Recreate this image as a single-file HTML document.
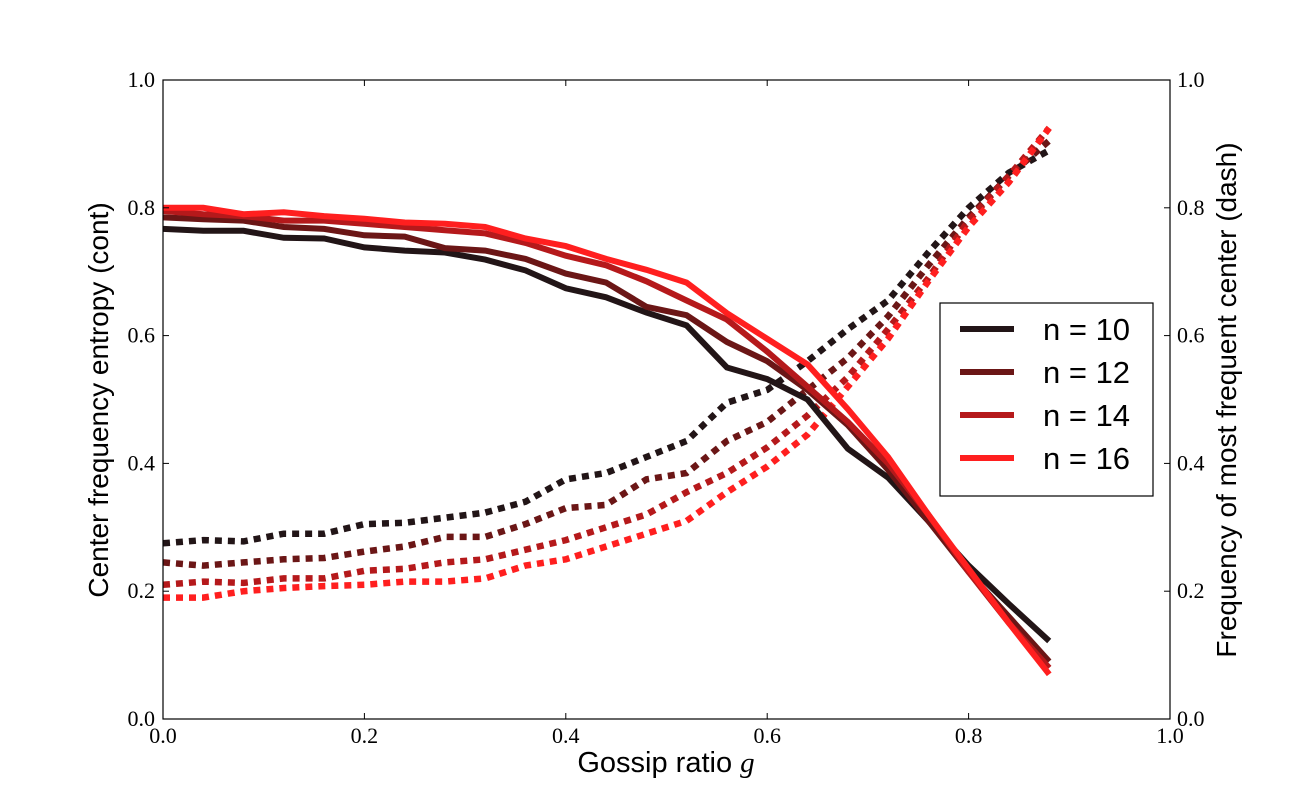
<!DOCTYPE html>
<html><head><meta charset="utf-8"><style>
body{margin:0;background:#fff}
svg text{font-family:"Liberation Sans",sans-serif}
.tk{font-family:"Liberation Serif",serif;font-size:22px;fill:#000}
</style></head><body>
<svg id="chart" width="1300" height="800" xmlns="http://www.w3.org/2000/svg">
<rect width="1300" height="800" fill="#fff"/>
<g id="marks"></g>
<rect x="163" y="80" width="1007" height="639" fill="none" stroke="#000" stroke-width="1.2"/>
<g id="ticks"></g>
<text x="666" y="772" text-anchor="middle" font-size="29">Gossip ratio <tspan font-family="Liberation Serif,serif" font-style="italic">g</tspan></text>
<text transform="translate(108,400) rotate(-90)" text-anchor="middle" font-size="28">Center frequency entropy (cont)</text>
<text transform="translate(1236,400) rotate(-90)" text-anchor="middle" font-size="28">Frequency of most frequent center (dash)</text>
<g id="legend">
<rect x="940" y="303" width="213" height="193" fill="#fff" stroke="#000" stroke-width="1.2"/>
</g>
</svg>
<script>
const xs=[0,0.04,0.08,0.12,0.16,0.2,0.24,0.28,0.32,0.36,0.4,0.44,0.48,0.52,0.56,0.6,0.64,0.68,0.72,0.76,0.8,0.84,0.88];
const seriesNames=["n = 10","n = 12","n = 14","n = 16"];
const colors=["#221517","#6b1616","#b5191b","#ff1f1f"];
const entropy10=[.767,.764,.764,.753,.752,.738,.733,.730,.719,.702,.674,.660,.636,.616,.55,.532,.50,.423,.378,.31,.24,.18,.122];
const entropy12=[.785,.782,.78,.77,.767,.757,.755,.737,.733,.72,.697,.683,.645,.632,.59,.56,.515,.46,.39,.31,.23,.16,.09];
const entropy14=[.795,.79,.787,.78,.78,.775,.77,.765,.76,.745,.725,.71,.685,.655,.625,.575,.52,.465,.40,.32,.23,.15,.08];
const entropy16=[.80,.80,.79,.793,.787,.783,.777,.775,.77,.752,.74,.72,.703,.683,.635,.595,.555,.485,.41,.32,.235,.15,.07];
const freq10=[.275,.28,.278,.29,.29,.305,.307,.315,.323,.34,.375,.385,.41,.435,.495,.515,.56,.61,.655,.73,.8,.855,.89];
const freq12=[.245,.24,.245,.25,.252,.262,.27,.285,.285,.305,.33,.335,.375,.385,.435,.465,.515,.565,.63,.71,.785,.85,.905];
const freq14=[.21,.215,.213,.22,.22,.232,.235,.245,.25,.265,.28,.3,.32,.355,.385,.425,.475,.535,.61,.69,.78,.85,.925];
const freq16=[.19,.19,.2,.205,.208,.21,.215,.215,.22,.24,.25,.27,.29,.31,.355,.395,.445,.52,.595,.685,.77,.84,.925];
const tickLabels=["0.0","0.2","0.4","0.6","0.8","1.0"];
const tickValues=[0,0.2,0.4,0.6,0.8,1.0];

const NS="http://www.w3.org/2000/svg";
const X=v=>163+v*1007, Y=v=>719-v*639;
function mk(t,a,p){const e=document.createElementNS(NS,t);for(const k in a)e.setAttribute(k,a[k]);p.appendChild(e);return e;}
const marks=document.getElementById('marks');
const ent=[entropy10,entropy12,entropy14,entropy16], fr=[freq10,freq12,freq14,freq16];
const keys=["n10","n12","n14","n16"];
for(let s=0;s<4;s++){
  const d1=fr[s].map((v,i)=>(i?'L':'M')+X(xs[i]).toFixed(1)+','+Y(v).toFixed(1)).join('');
  const p1=mk('path',{d:d1,fill:'none',stroke:colors[s],'stroke-width':6.5,'stroke-dasharray':'7,6'},marks);
  
  
}
for(let s=0;s<4;s++){
  const d=ent[s].map((v,i)=>(i?'L':'M')+X(xs[i]).toFixed(1)+','+Y(v).toFixed(1)).join('');
  const p=mk('path',{d:d,fill:'none',stroke:colors[s],'stroke-width':6,'stroke-linejoin':'miter'},marks);
  
  
}
const tk=document.getElementById('ticks');
tickValues.forEach((v,i)=>{
  mk('line',{x1:X(v),x2:X(v),y1:719,y2:713,stroke:'#000'},tk);
  mk('line',{x1:X(v),x2:X(v),y1:80,y2:86,stroke:'#000'},tk);
  mk('line',{x1:163,x2:169,y1:Y(v),y2:Y(v),stroke:'#000'},tk);
  mk('line',{x1:1170,x2:1164,y1:Y(v),y2:Y(v),stroke:'#000'},tk);
  const a=mk('text',{x:X(v),y:743,'text-anchor':'middle',class:'tk'},tk);a.textContent=tickLabels[i];
  
  
  const b=mk('text',{x:155,y:Y(v)+7,'text-anchor':'end',class:'tk'},tk);b.textContent=tickLabels[i];
  
  
  const c=mk('text',{x:1177,y:Y(v)+7,'text-anchor':'start',class:'tk'},tk);c.textContent=tickLabels[i];
  
  
});
const lg=document.getElementById('legend');
for(let s=0;s<4;s++){
  const y=329+s*43;
  const g=mk('g',{},lg);
  
  
  mk('line',{x1:960,x2:1014,y1:y,y2:y,stroke:colors[s],'stroke-width':6},g);
  const t=mk('text',{x:1043,y:y+11,'font-size':31},g);t.textContent=seriesNames[s];
}
</script>
</body></html>
